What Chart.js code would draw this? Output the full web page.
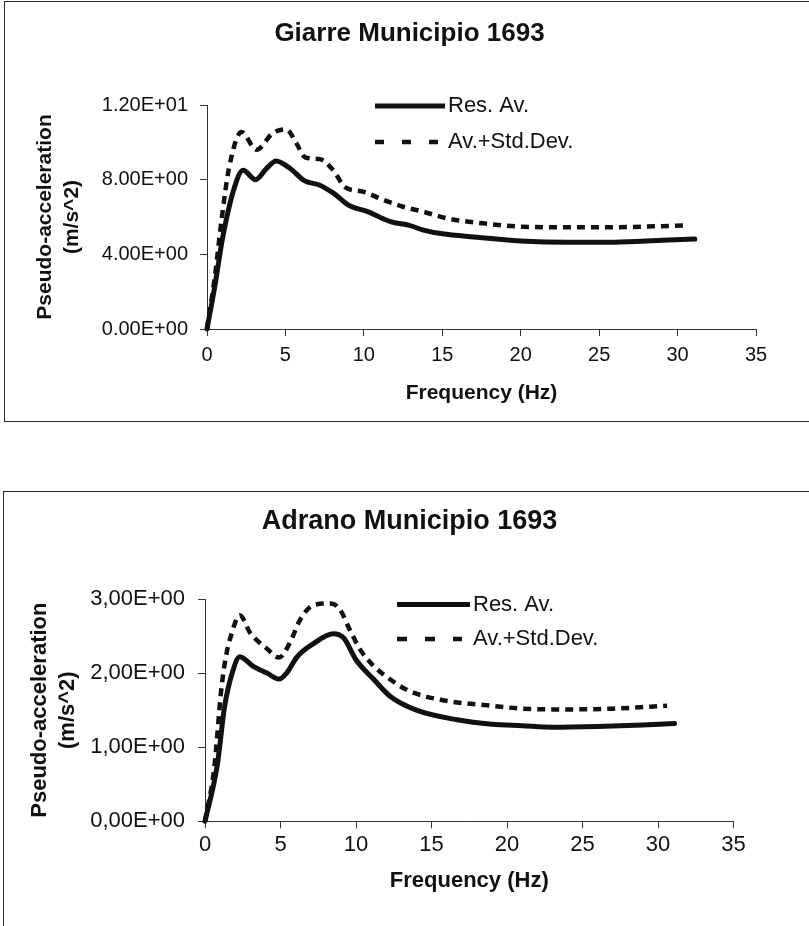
<!DOCTYPE html>
<html>
<head>
<meta charset="utf-8">
<script src="https://cdn.jsdelivr.net/npm/chart.js@4/dist/chart.umd.min.js"></script>
<style>
  html, body { margin: 0; padding: 0; background: #fff; overflow: hidden; width: 809px; height: 926px; }
  .wrap { position: absolute; left: 0; width: 809px; }
  .frame { position: absolute; border: 1.5px solid #2a2a2a; pointer-events: none; }
</style>
</head>
<body>
<div class="wrap" style="top:0;height:460px;"><canvas id="c1" width="809" height="460"></canvas></div>
<div class="wrap" style="top:460px;height:466px;"><canvas id="c2" width="809" height="466"></canvas></div>
<div class="frame" style="left:4px;top:1px;width:820px;height:419px;"></div>
<div class="frame" style="left:3px;top:491px;width:820px;height:460px;"></div>
<script>
// ---------- Data ----------
const giarreTitle = 'Giarre Municipio 1693';
const adranoTitle = 'Adrano Municipio 1693';
const seriesNames = ['Res. Av.', 'Av.+Std.Dev.'];
const xTitle = 'Frequency (Hz)';
const yTitle = ['Pseudo-acceleration', '(m/s^2)'];

const giarreResFreq = [0, 0.5, 1.0, 1.7, 2.3, 3.1, 3.8, 4.4, 5.3, 6.2, 7.2, 8.1, 9.1, 10.2, 11.7, 12.9, 13.8, 15.0, 17.0, 20.0, 23.0, 26.0, 29.0, 31.1];
const giarreResAv   = [0, 2.3, 4.9, 7.45, 8.5, 8.0, 8.6, 9.0, 8.6, 7.95, 7.7, 7.25, 6.6, 6.3, 5.75, 5.55, 5.3, 5.1, 4.93, 4.72, 4.65, 4.65, 4.75, 4.82];
const giarreStdFreq = [0, 0.5, 0.95, 1.4, 2.2, 3.15, 4.2, 5.05, 5.7, 6.25, 7.2, 8.05, 8.8, 10.0, 11.0, 12.5, 13.8, 15.3, 17.6, 20.1, 23.0, 26.0, 28.5, 30.5];
const giarreStd     = [0, 2.8, 6.0, 8.6, 10.55, 9.6, 10.5, 10.7, 9.95, 9.2, 9.1, 8.5, 7.6, 7.35, 7.0, 6.55, 6.28, 5.93, 5.66, 5.48, 5.45, 5.45, 5.5, 5.55];

const adranoResFreq = [0, 0.8, 1.3, 1.8, 2.3, 3.2, 4.1, 4.9, 5.4, 6.1, 7.2, 8.5, 9.2, 10.0, 11.2, 12.3, 14.0, 16.7, 19.0, 21.0, 23.0, 26.0, 29.0, 31.1];
const adranoResAv   = [0, 0.74, 1.55, 2.0, 2.22, 2.09, 2.0, 1.92, 2.0, 2.22, 2.4, 2.53, 2.47, 2.18, 1.91, 1.68, 1.5, 1.37, 1.31, 1.29, 1.27, 1.28, 1.30, 1.32];
const adranoStdFreq = [0, 0.6, 1.1, 1.45, 1.7, 2.3, 3.0, 4.1, 4.9, 5.6, 6.3, 7.2, 8.3, 8.9, 9.6, 10.3, 11.2, 12.3, 13.4, 15.6, 18.9, 21.1, 24.0, 27.0, 30.6];
const adranoStd     = [0, 0.7, 1.82, 2.29, 2.49, 2.78, 2.54, 2.33, 2.21, 2.40, 2.72, 2.92, 2.94, 2.87, 2.58, 2.31, 2.09, 1.91, 1.77, 1.64, 1.56, 1.52, 1.51, 1.52, 1.56];

const xTicks = [0, 5, 10, 15, 20, 25, 30, 35];
const giarreYTicks = [0, 4, 8, 12];
const giarreYLabels = ['0.00E+00', '4.00E+00', '8.00E+00', '1.20E+01'];
const adranoYTicks = [0, 1, 2, 3];
const adranoYLabels = ['0,00E+00', '1,00E+00', '2,00E+00', '3,00E+00'];

// ---------- Helpers ----------
const FONT = "'Liberation Sans', Arial, sans-serif";
const INK = '#111';
const pts = (xs, ys) => xs.map((x, i) => ({ x: x, y: ys[i] }));

const customLegend = {
  id: 'customLegend',
  afterDraw(chart, args, opts) {
    const ctx = chart.ctx;
    ctx.save();
    chart.data.datasets.forEach((ds, i) => {
      const it = opts.items[i];
      ctx.beginPath();
      ctx.strokeStyle = ds.borderColor;
      ctx.lineWidth = ds.borderWidth;
      ctx.setLineDash(it.dash || []);
      ctx.moveTo(opts.x, it.y);
      ctx.lineTo(opts.x + it.len, it.y);
      ctx.stroke();
      ctx.setLineDash([]);
      ctx.fillStyle = INK;
      ctx.font = opts.fontSize + 'px ' + FONT;
      ctx.textBaseline = 'middle';
      ctx.textAlign = 'left';
      ctx.fillText(ds.label, opts.textX, it.y);
    });
    ctx.restore();
  }
};

const PAD_LEFT = 10;

function makeChart(id, cfg) {
  return new Chart(document.getElementById(id), {
    type: 'line',
    data: {
      datasets: [
        { label: seriesNames[0], data: pts(cfg.resFreq, cfg.res), borderColor: INK, borderWidth: 5,
          pointRadius: 0, cubicInterpolationMode: 'monotone', clip: 8, borderCapStyle: 'round', yAxisID: 'y' },
        { label: seriesNames[1], data: pts(cfg.stdFreq, cfg.std), borderColor: INK, borderWidth: 4.5,
          borderDash: [8, 6], pointRadius: 0, cubicInterpolationMode: 'monotone', clip: 8, borderCapStyle: 'butt', yAxisID: 'y' }
      ]
    },
    plugins: [customLegend],
    options: {
      responsive: false,
      animation: false,
      events: [],
      layout: { padding: { left: PAD_LEFT, top: 0, right: 0, bottom: cfg.padBottom } },
      plugins: {
        legend: { display: false },
        tooltip: { enabled: false },
        title: { display: true, text: cfg.title, color: INK,
                 font: { family: FONT, size: cfg.titleSize, weight: 'bold', lineHeight: 1.2 },
                 padding: { top: cfg.titlePadTop, bottom: cfg.titlePadBottom } },
        customLegend: cfg.legend
      },
      scales: {
        x: {
          type: 'linear', min: 0, max: 35,
          afterBuildTicks: (sc) => { sc.ticks = xTicks.map(v => ({ value: v })); },
          afterFit: (sc) => { sc.height = cfg.xHeight; },
          ticks: { color: INK, font: { family: FONT, size: cfg.tickSize }, padding: cfg.xTickPad, maxRotation: 0 },
          grid: { display: true, drawOnChartArea: false, drawTicks: true, tickLength: 7, color: '#333', lineWidth: 1 },
          border: { display: true, color: '#333', width: 1 },
          title: { display: true, text: xTitle, color: INK,
                   font: { family: FONT, size: cfg.axisTitleSize, weight: 'bold', lineHeight: 1.2 },
                   padding: { top: 0, bottom: 0 } }
        },
        y: {
          type: 'linear', position: 'left', min: cfg.yTicks[0], max: cfg.yTicks[cfg.yTicks.length - 1],
          afterBuildTicks: (sc) => { sc.ticks = cfg.yTicks.map(v => ({ value: v })); },
          afterFit: (sc) => { sc.width = cfg.yWidth - PAD_LEFT; },
          ticks: { color: INK, font: { family: FONT, size: cfg.tickSize }, padding: cfg.yTickPad,
                   callback: (v) => cfg.yLabels[cfg.yTicks.indexOf(v)] },
          grid: { display: true, drawOnChartArea: false, drawTicks: true, tickLength: 7, color: '#333', lineWidth: 1 },
          border: { display: true, color: '#333', width: 1 },
          title: { display: true, text: yTitle, color: INK,
                   font: { family: FONT, size: cfg.axisTitleSize, weight: 'bold', lineHeight: cfg.yTitleLH },
                   padding: { top: cfg.yTitlePadTop - PAD_LEFT, bottom: 0 } }
        },
        yRight: {
          type: 'linear', position: 'right', display: true,
          afterFit: (sc) => { sc.width = cfg.rightSpace; },
          ticks: { display: false },
          grid: { display: false },
          border: { display: false },
          title: { display: false }
        }
      }
    }
  });
}

makeChart('c1', {
  title: giarreTitle, titleSize: 26, titlePadTop: 18.4, titlePadBottom: 55.4,
  resFreq: giarreResFreq, res: giarreResAv, stdFreq: giarreStdFreq, std: giarreStd,
  yTicks: giarreYTicks, yLabels: giarreYLabels,
  rightSpace: 53, padBottom: 54.4, xHeight: 76.6, yWidth: 207,
  tickSize: 20, axisTitleSize: 21, xTickPad: 7.5, yTickPad: 12,
  yTitleLH: 1.28, yTitlePadTop: 31.6,
  legend: { x: 375, textX: 448, fontSize: 22,
            items: [{ y: 106, len: 70 }, { y: 142, len: 63, dash: [9, 18] }] }
});

makeChart('c2', {
  title: adranoTitle, titleSize: 27, titlePadTop: 45, titlePadBottom: 61.6,
  resFreq: adranoResFreq, res: adranoResAv, stdFreq: adranoStdFreq, std: adranoStd,
  yTicks: adranoYTicks, yLabels: adranoYLabels,
  rightSpace: 75.5, padBottom: 31.8, xHeight: 72.9, yWidth: 205,
  tickSize: 22, axisTitleSize: 22, xTickPad: 3, yTickPad: 13,
  yTitleLH: 1.27, yTitlePadTop: 26,
  legend: { x: 397, textX: 473, fontSize: 22,
            items: [{ y: 144.5, len: 73 }, { y: 179, len: 65, dash: [10, 18] }] }
});
</script>
</body>
</html>
